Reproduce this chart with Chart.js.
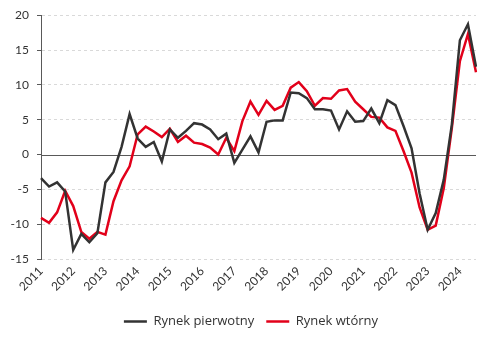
<!DOCTYPE html>
<html>
<head>
<meta charset="utf-8">
<script src="https://cdn.jsdelivr.net/npm/chart.js@4"></script>
<style>
  html, body { margin: 0; padding: 0; background: #fff; }
  #wrap { width: 500px; height: 339px; }
</style>
</head>
<body>
<div id="wrap"><canvas id="myChart"></canvas></div>
<script>
// lata na osi X (co 4 kwartaly)
const years = ['2011', '2012', '2013', '2014', '2015', '2016', '2017',
  '2018', '2019', '2020', '2021', '2022', '2023', '2024'];

// kwartaly 2011 Q1 - 2024 Q3
const quarters = [];
for (let y of years) {
    for (let q = 1; q <= 4; q++) {
        if (y == '2024' && q > 3) break;
        quarters.push(y + ' Q' + q);
    }
}

const pierwotny = [
  -3.4, -4.6, -4.0, -5.3, -13.7, -11.4, -12.6, -11.3, -4.0, -2.5,
  1.1, 5.8, 2.3, 1.1, 1.8, -1.0, 3.6, 2.4, 3.4, 4.5,
  4.3, 3.6, 2.2, 3.0, -1.2, 0.7, 2.6, 0.3, 4.7, 4.9,
  4.9, 8.9, 8.8, 8.1, 6.5, 6.5, 6.3, 3.6, 6.2, 4.7,
  4.8, 6.6, 4.5, 7.8, 7.1, 4.1, 0.9, -5.6, -10.8, -8.4,
  -3.6, 4.3, 16.4, 18.7, 12.6
];

const wtorny = [
  -9.1, -9.8, -8.3, -5.2, -7.4, -11.1, -12.1, -11.1, -11.5, -6.7,
  -3.7, -1.7, 2.9, 4.0, 3.3, 2.5, 3.7, 1.8, 2.7, 1.7,
  1.5, 1.0, 0.0, 2.4, 0.5, 4.8, 7.6, 5.7, 7.7, 6.4,
  7.0, 9.6, 10.4, 9.1, 7.0, 8.1, 8.0, 9.2, 9.4, 7.6,
  6.5, 5.4, 5.3, 3.9, 3.4, 0.5, -2.6, -7.6, -10.8, -10.2,
  -4.8, 3.8, 13.4, 17.3, 11.8
];

// linia zera rysowana osobno (pelna), reszta siatki przerywana
const zeroLine = {
    id: 'zeroLine',
    afterLayout(chart) {
        // legenda troche w prawo, na srodek rysunku
        chart.legend.left += 13;
        chart.legend.right += 13;
    },
    beforeDatasetsDraw(chart) {
        const ctx = chart.ctx;
        const area = chart.chartArea;
        const yy = Math.round(chart.scales.y.getPixelForValue(0)) + 0.5;
        ctx.save();
        ctx.strokeStyle = '#595959';
        ctx.lineWidth = 1;
        ctx.beginPath();
        ctx.moveTo(area.left, yy);
        ctx.lineTo(area.right, yy);
        ctx.stroke();
        ctx.restore();
    }
};

const beginChart = () => {
    var ctx = document.getElementById('myChart').getContext('2d');

    var data = {
        labels: quarters,
        datasets: [{
            label: 'Rynek pierwotny',
            data: pierwotny,
            borderColor: '#333333',
            backgroundColor: '#333333',
            borderWidth: 2.5,
            pointRadius: 0,
            tension: 0
        }, {
            label: 'Rynek wtórny',
            data: wtorny,
            borderColor: '#e2001a',
            backgroundColor: '#e2001a',
            borderWidth: 2.5,
            pointRadius: 0,
            tension: 0
        }]
    };

    var options = {
        responsive: true,
        maintainAspectRatio: false,
        animation: false,
        layout: { padding: { top: 2, right: 24, bottom: 1, left: 0 } },
        plugins: {
            legend: {
                position: 'bottom',
                labels: {
                    usePointStyle: true,
                    pointStyle: 'line',
                    pointStyleWidth: 23,
                    color: '#333',
                    font: { family: 'Open Sans', size: 13 },
                    padding: 12
                }
            },
            tooltip: { enabled: false }
        },
        scales: {
            x: {
                afterFit: (scale) => { scale.height = 44; },
                grid: { display: false, drawTicks: false },
                border: { display: false },
                ticks: {
                    autoSkip: false,
                    maxRotation: 45,
                    minRotation: 45,
                    padding: 5,
                    color: '#333',
                    font: { family: 'Lato', size: 12 },
                    callback: function (val, index) {
                        return index % 4 == 0 ? this.getLabelForValue(val).slice(0, 4) : '';
                    }
                }
            },
            y: {
                min: -15,
                max: 20,
                afterFit: (scale) => { scale.width = 41; },
                ticks: {
                    stepSize: 5,
                    padding: 8,
                    color: '#333',
                    font: { family: 'Lato', size: 12 }
                },
                grid: {
                    color: (c) => c.tick.value == 0 ? 'rgba(0,0,0,0)' : '#d9d9d9',
                    tickColor: '#595959',
                    tickLength: 4,
                    tickBorderDash: [],
                    lineWidth: 1
                },
                border: { color: '#595959', width: 1, dash: [3, 3] }
            }
        }
    };

    var myChart = new Chart(ctx, {
        type: 'line',
        data: data,
        options: options,
        plugins: [zeroLine]
    });
};

document.addEventListener("DOMContentLoaded", beginChart);
</script>
</body>
</html>
